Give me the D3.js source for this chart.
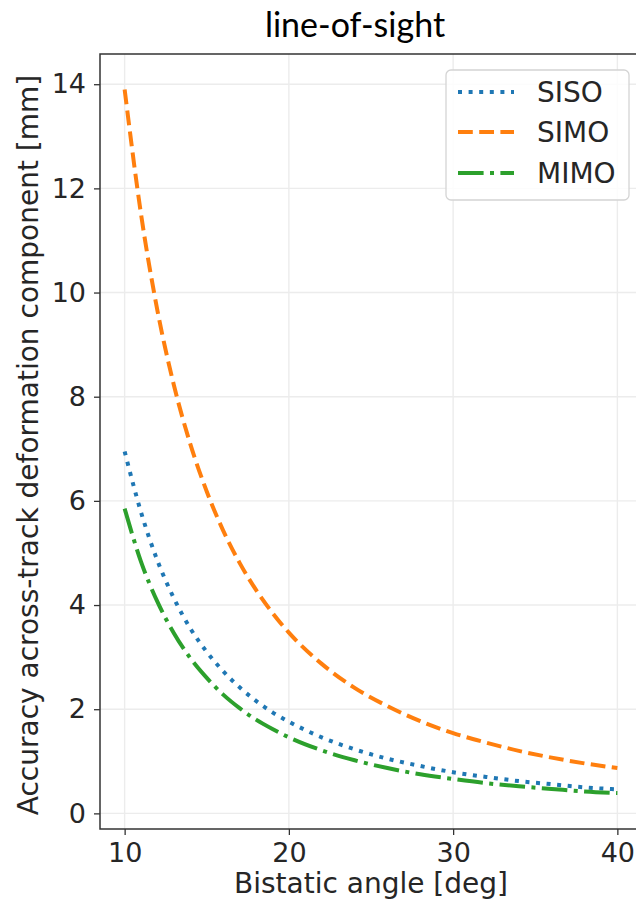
<!DOCTYPE html>
<html>
<head>
<meta charset="utf-8">
<script src="https://cdn.jsdelivr.net/npm/d3@7"></script>
<style>
  body { margin: 0; background: #fff; }
  svg { display: block; }
  .tick text { font-family: "DejaVu Sans", sans-serif; fill: #262626; }
</style>
</head>
<body>
<div id="chart"></div>
<script>
// values
var angles = [10, 11, 12, 13, 14, 15, 16, 17, 18, 19, 20, 22, 24, 26, 28, 30, 32, 34, 36, 38, 40];
var siso = [6.95, 5.78, 4.85, 4.13, 3.55, 3.10, 2.73, 2.42, 2.16, 1.94, 1.76, 1.46, 1.23, 1.05, 0.91, 0.79, 0.70, 0.62, 0.56, 0.50, 0.46];
var simo = [13.9, 11.5, 9.65, 8.22, 7.09, 6.18, 5.43, 4.81, 4.29, 3.85, 3.47, 2.87, 2.41, 2.06, 1.77, 1.54, 1.36, 1.20, 1.07, 0.96, 0.87];
var mimo = [5.85, 4.83, 4.06, 3.46, 2.98, 2.60, 2.28, 2.02, 1.80, 1.62, 1.46, 1.21, 1.02, 0.87, 0.75, 0.66, 0.58, 0.52, 0.47, 0.42, 0.39];
var seriesNames = ["SISO", "SIMO", "MIMO"];
var xTicks = [10, 20, 30, 40];
var yTicks = [0, 2, 4, 6, 8, 10, 12, 14];

var width = 636, height = 902;
var plotLeft = 100, plotRight = 642, plotTop = 54, plotBottom = 829;
var lw = 4;

var styles = [
  { color: "#1f77b4", dash: [1, 1.65] },
  { color: "#ff7f0e", dash: [3.7, 1.6] },
  { color: "#2ca02c", dash: [6.4, 1.6, 1, 1.6] }
];

var svg = d3.select("#chart").append("svg")
    .attr("width", width)
    .attr("height", height);

svg.append("rect").attr("width", width).attr("height", height).attr("fill", "#fff");

var xScale = d3.scaleLinear().domain([8.5, 41.5]).range([plotLeft, plotRight]);
var yScale = d3.scaleLinear().domain([-0.3, 14.58]).range([plotBottom, plotTop]);

// grid
svg.append("g").selectAll("line").data(xTicks).enter().append("line")
    .attr("x1", function(d) { return xScale(d); })
    .attr("x2", function(d) { return xScale(d); })
    .attr("y1", plotTop).attr("y2", plotBottom)
    .attr("stroke", "#ececec").attr("stroke-width", 1.4);
svg.append("g").selectAll("line").data(yTicks).enter().append("line")
    .attr("y1", function(d) { return yScale(d); })
    .attr("y2", function(d) { return yScale(d); })
    .attr("x1", plotLeft).attr("x2", plotRight)
    .attr("stroke", "#ececec").attr("stroke-width", 1.4);

// lines
var lineGen = d3.line()
    .x(function(d) { return xScale(d[0]); })
    .y(function(d) { return yScale(d[1]); })
    .curve(d3.curveMonotoneX);

[siso, simo, mimo].forEach(function(vals, i) {
  var pts = angles.map(function(a, j) { return [a, vals[j]]; });
  svg.append("path")
      .attr("d", lineGen(pts))
      .attr("fill", "none")
      .attr("stroke", styles[i].color)
      .attr("stroke-width", lw)
      .attr("stroke-dasharray", styles[i].dash.map(function(v) { return v * lw; }).join(","));
});

// axes
var xAxis = d3.axisBottom(xScale).tickValues(xTicks).tickSize(6).tickPadding(8);
var yAxis = d3.axisLeft(yScale).tickValues(yTicks).tickSize(6).tickPadding(8);

var gx = svg.append("g")
    .attr("transform", `translate(0, ${plotBottom})`)
    .call(xAxis);
var gy = svg.append("g")
    .attr("transform", `translate(${plotLeft}, 0)`)
    .call(yAxis);

[gx, gy].forEach(function(g) {
  g.select(".domain").remove();
  g.selectAll(".tick line").attr("stroke", "#333").attr("stroke-width", 1.3);
  g.selectAll(".tick text").attr("font-size", 27);
});

// frame
svg.append("rect")
    .attr("x", plotLeft).attr("y", plotTop)
    .attr("width", plotRight - plotLeft).attr("height", plotBottom - plotTop)
    .attr("fill", "none").attr("stroke", "#333").attr("stroke-width", 1.5);

// labels
svg.append("text")
    .attr("x", (plotLeft + plotRight) / 2).attr("y", 893)
    .attr("text-anchor", "middle")
    .attr("font-family", "DejaVu Sans").attr("font-size", 28).attr("fill", "#262626")
    .text("Bistatic angle [deg]");

svg.append("text")
    .attr("transform", "translate(38, 445) rotate(-90)")
    .attr("text-anchor", "middle")
    .attr("font-family", "DejaVu Sans").attr("font-size", 28).attr("fill", "#262626")
    .text("Accuracy across-track deformation component [mm]");

svg.append("text")
    .attr("x", 355).attr("y", 37)
    .attr("text-anchor", "middle")
    .attr("font-family", "Lato").attr("font-size", 34).attr("fill", "#000")
    .text("line-of-sight");

// legend
var legend = svg.append("g");
legend.append("rect")
    .attr("x", 446).attr("y", 70).attr("width", 183).attr("height", 130)
    .attr("rx", 5)
    .attr("fill", "#fff").attr("fill-opacity", 0.85)
    .attr("stroke", "#d4d4d4").attr("stroke-width", 1.3);

var legendY = [92, 132, 173];
seriesNames.forEach(function(name, i) {
  legend.append("line")
      .attr("x1", 458).attr("x2", 514)
      .attr("y1", legendY[i]).attr("y2", legendY[i])
      .attr("stroke", styles[i].color)
      .attr("stroke-width", lw)
      .attr("stroke-dasharray", styles[i].dash.map(function(v) { return v * lw; }).join(","));
  legend.append("text")
      .attr("x", 537).attr("y", legendY[i])
      .attr("dy", "0.35em")
      .attr("font-family", "DejaVu Sans").attr("font-size", 28).attr("fill", "#262626")
      .text(name);
});
</script>
</body>
</html>
